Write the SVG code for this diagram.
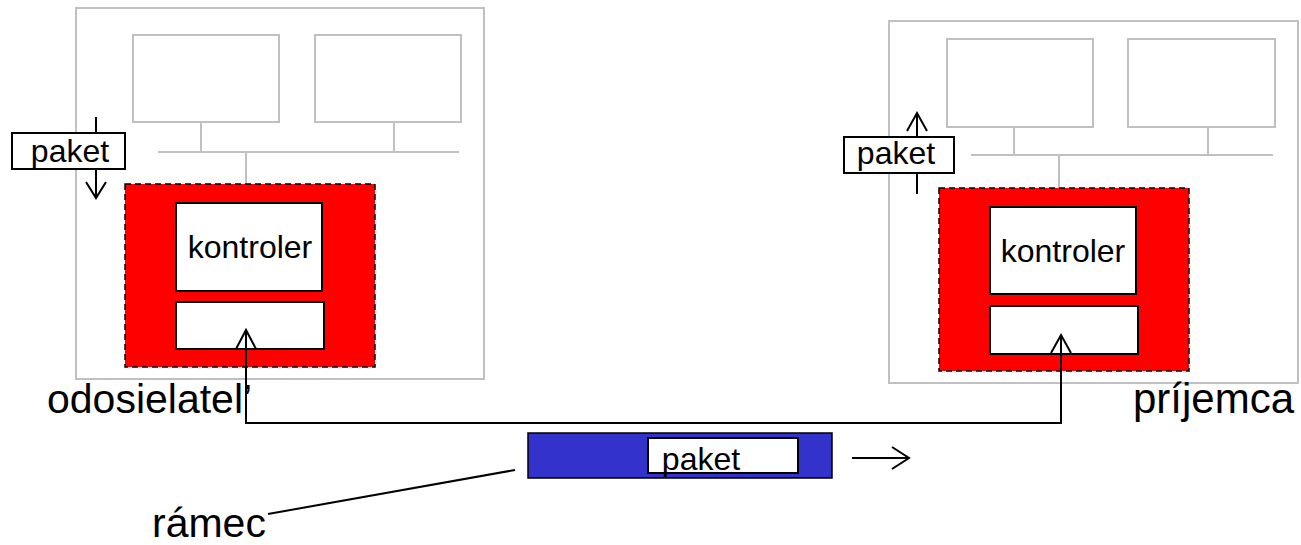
<svg xmlns="http://www.w3.org/2000/svg" width="1301" height="545" viewBox="0 0 1301 545">
<style>
.host{fill:#fff;stroke:#c0c0c0;stroke-width:2}
.gl{stroke:#c0c0c0;stroke-width:2;fill:none}
.nic{fill:#ff0000;stroke:#000;stroke-width:1.5;stroke-dasharray:6 4}
.box{fill:#fff;stroke:#000;stroke-width:2}
.ln{stroke:#000;stroke-width:2;fill:none}
.t{font-family:"Liberation Sans",Arial,sans-serif;fill:#000}
.s{font-size:32px}
.k{font-size:32px}
.b{font-size:41px}
</style>
<g id="sender">
<rect class="host" x="76" y="8" width="408" height="371"/>
<rect class="host" x="133" y="35" width="146" height="87"/>
<rect class="host" x="315" y="35" width="146" height="87"/>
<path class="gl" d="M158 152H459M201 122V152M394 122V152M246 152V203"/>
<rect class="nic" x="125" y="184" width="250" height="183"/>
<rect class="box" x="176" y="203" width="146" height="88"/>
<text class="t k" x="250" y="258" text-anchor="middle">kontroler</text>
<rect class="box" x="176" y="302" width="148" height="47"/>
<text class="t b" x="47" y="413">odosielatel’</text>
</g>
<g id="receiver">
<rect class="host" x="889" y="21" width="409" height="362"/>
<rect class="host" x="947" y="39" width="146" height="88"/>
<rect class="host" x="1128" y="39" width="147" height="88"/>
<path class="gl" d="M971 155H1273M1014 127V155M1208 127V155M1059 155V207"/>
<rect class="nic" x="939" y="188" width="250" height="183"/>
<rect class="box" x="990" y="207" width="146" height="87"/>
<text class="t k" x="1063" y="262" text-anchor="middle">kontroler</text>
<rect class="box" x="990" y="306" width="148" height="48"/>
<text class="t b" x="1133" y="413" style="font-size:42px">príjemca</text>
</g>
<g id="packet-left">
<path class="ln" d="M96 117V198M86 182L96 198L106 182"/>
<rect class="box" x="12" y="133" width="113" height="36"/>
<text class="t s" x="70" y="162" text-anchor="middle">paket</text>
</g>
<g id="packet-right">
<path class="ln" d="M917 194V113M907 131L917 113L927 131"/>
<rect class="box" x="844" y="137" width="110" height="36"/>
<text class="t s" x="896" y="164" text-anchor="middle">paket</text>
</g>
<g id="frame">
<rect x="528" y="433" width="304" height="45" fill="#3333cc" stroke="#000" stroke-width="1.5"/>
<rect class="box" x="648" y="438" width="150" height="35"/>
<text class="t s" x="701" y="470" text-anchor="middle">paket</text>
<text class="t b" x="152" y="537">rámec</text>
</g>
<g id="connectors">
<path class="ln" d="M246 330V423H1061V335"/>
<path class="ln" d="M236 349L246 330L256 349M1051 353L1061 335L1071 353"/>
<path class="ln" d="M852 458H909M892 447L909 458L892 469"/>
<path class="ln" d="M268 514L515 470" stroke-width="1.5"/>
</g>
</svg>
